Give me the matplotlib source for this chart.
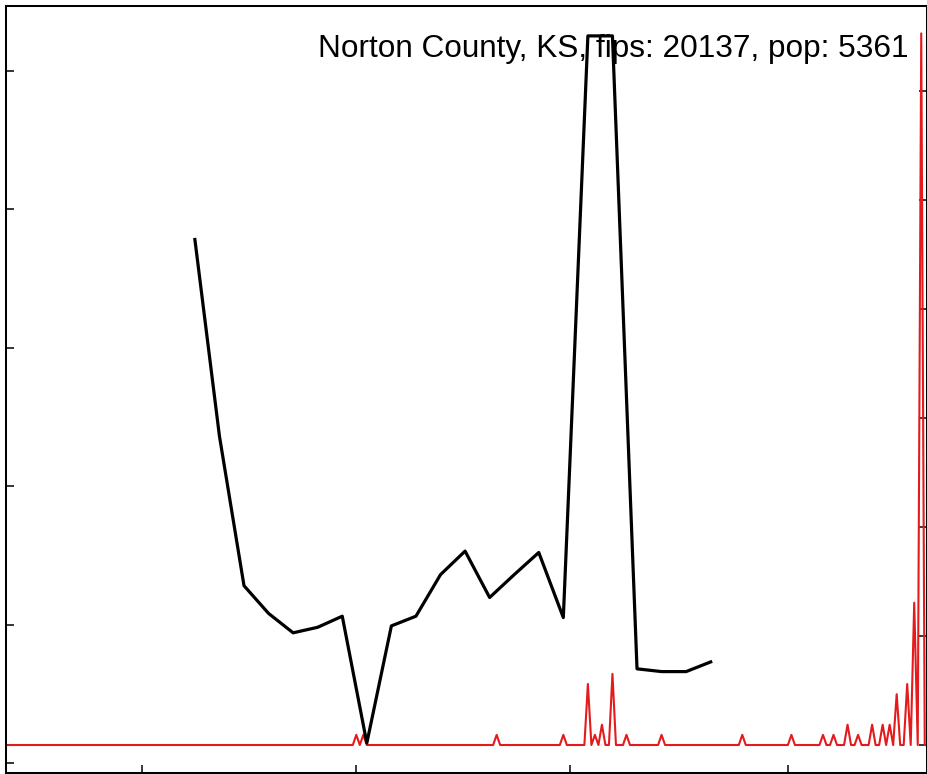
import matplotlib.pyplot as plt
import matplotlib.dates as mdates
import numpy as np
import pandas as pd

county = "Norton County, KS"
fips = 20137
pop = 5361

start = pd.Timestamp("2020-01-22")
n_days = 263

# weekly series (left axis), days counted from start
week_day = [54, 61, 68, 75, 82, 89, 96, 103, 110, 117, 124,
            131, 138, 145, 152, 159, 166, 173, 180, 187, 194, 201]
week_val = [3.78, 2.36, 1.28, 1.08, 0.94, 0.98, 1.06, 0.144, 0.99, 1.06, 1.36,
            1.53, 1.195, 1.36, 1.52, 1.05, 5.25, 5.25, 0.68, 0.66, 0.66, 0.73]

# daily new cases (right axis, per 100k); all other days are zero
case_day = [100, 102, 140, 159, 166, 168, 170, 173, 177, 187, 210, 224,
            233, 236, 240, 243, 247, 250, 252, 254, 257, 259, 261]
case_new = [1, 1, 1, 1, 6, 1, 2, 7, 1, 1, 1, 1,
            1, 1, 2, 1, 2, 2, 2, 5, 6, 14, 70]

daily = np.zeros(n_days)
daily[case_day] = case_new
daily_100k = daily * 100000 / pop
dates = start + pd.to_timedelta(np.arange(n_days), unit="D")
week_dates = start + pd.to_timedelta(week_day, unit="D")

W, H = 928, 774
fig = plt.figure(figsize=(W / 100, H / 100), dpi=100)
ax = fig.add_axes([6 / W, (H - 772.7) / H, 920.5 / W, 767 / H])
ax2 = ax.twinx()

ax2.plot(dates, daily_100k, color="#e41a1c", lw=1.5)
ax.plot(week_dates, week_val, color="black", lw=2.3)

ax.set_zorder(ax2.get_zorder() + 1)
ax.patch.set_visible(False)

ax2.text(0.9804, 0.9329, f"{county}, fips: {fips}, pop: {pop}",
         transform=ax.transAxes, ha="right", va="baseline",
         fontsize=22.7, family=["Liberation Sans", "DejaVu Sans"])

ax.set_xlim(start + pd.Timedelta(days=0.17), start + pd.Timedelta(days=262.5))
ax.set_ylim(-0.070, 5.468)
ax2.set_ylim(-50.8, 1356.5)

ax.xaxis.set_major_locator(mdates.MonthLocator(bymonth=[3, 5, 7, 9]))
ax.set_yticks([0, 1, 2, 3, 4, 5])
ax2.set_yticks([0, 200, 400, 600, 800, 1000, 1200])

for a in (ax, ax2):
    a.tick_params(direction="in", length=5.5, width=1.1,
                  labelbottom=False, labelleft=False, labelright=False)
    for s in a.spines.values():
        s.set_linewidth(1.45)
        s.set_color("black")

fig.savefig("out.png", dpi=100)
